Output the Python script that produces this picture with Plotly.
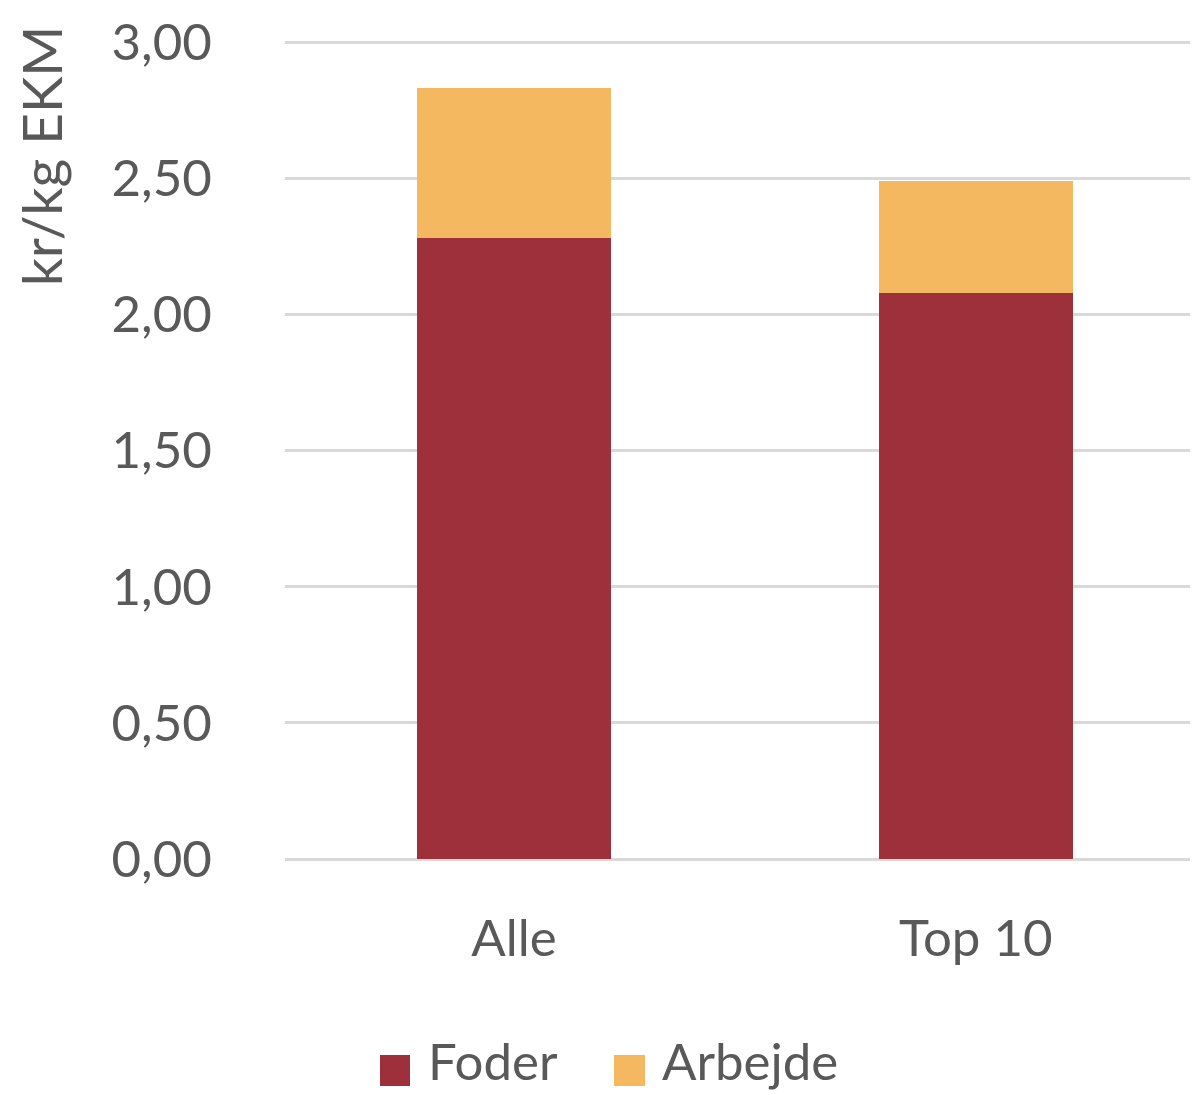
import plotly.graph_objects as go

categories = ["Alle", "Top 10"]
foder = [2.28, 2.08]
arbejde = [0.55, 0.41]
series_names = ["Foder", "Arbejde"]
colors = ["#9E303B", "#F4B860"]
y_ticks = [0, 0.5, 1.0, 1.5, 2.0, 2.5, 3.0]

OFF = 8  # default page body margin
W, H = 1198 - OFF, 1095 - OFF
# screen coordinates of the plot area
SX0, SX1, SY0, SY1 = 285, 1198, 41, 859
L = SX0 - OFF
T = SY0 - OFF
R = 1198 - SX1
B = 1095 - SY1
plot_w = SX1 - SX0
plot_h = SY1 - SY0

def px(x):
    return (x - SX0) / plot_w

def py(y):
    return (SY1 - y) / plot_h

font_family = "Lato, 'Open Sans', sans-serif"
text_color = "#595959"

fig = go.Figure()
for name, vals, col in zip(series_names, [foder, arbejde], colors):
    fig.add_trace(go.Bar(x=categories, y=vals, name=name, marker_color=col,
                         marker_line_width=0, width=0.42, showlegend=False))

fig.update_layout(
    barmode="stack",
    width=W, height=H,
    margin=dict(l=L, r=R, t=T, b=B),
    paper_bgcolor="white", plot_bgcolor="white",
    separators=", ",
    font=dict(family=font_family, color=text_color, size=50),
)
fig.update_xaxes(range=[-0.496, 1.481], showgrid=False, showline=False,
                 ticks="outside", ticklen=35, tickcolor="rgba(0,0,0,0)",
                 tickfont=dict(size=51, color=text_color))
fig.update_yaxes(range=[0, 3.004], tickvals=y_ticks, tickformat=".2f",
                 showgrid=True, gridcolor="#D9D9D9", gridwidth=2.5,
                 zeroline=True, zerolinecolor="#D9D9D9", zerolinewidth=2.5,
                 showline=False, ticks="outside", ticklen=62,
                 tickcolor="rgba(0,0,0,0)",
                 tickfont=dict(size=51, color=text_color))

# axis title
fig.add_annotation(text="kr/kg EKM", x=px(41), y=py(156), xref="paper", yref="paper",
                   textangle=-90, showarrow=False, xanchor="center", yanchor="middle",
                   font=dict(size=55, color=text_color, family=font_family))

# custom legend
leg = [(380, 410, 426, "Foder", colors[0]), (614, 645, 660, "Arbejde", colors[1])]
for x0, x1, tx, name, col in leg:
    fig.add_shape(type="rect", xref="paper", yref="paper",
                  x0=px(x0), x1=px(x1), y0=py(1086), y1=py(1055),
                  fillcolor=col, line_width=0)
    fig.add_annotation(text=name, x=px(tx), y=py(1060), xref="paper", yref="paper",
                       showarrow=False, xanchor="left", yanchor="middle",
                       font=dict(size=51, color=text_color, family=font_family))

fig.write_html("out.html")
